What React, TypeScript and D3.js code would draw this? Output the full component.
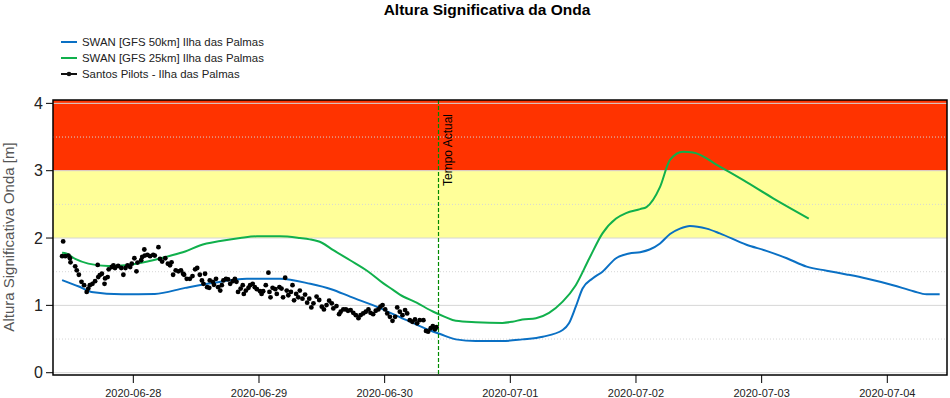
import React from "react";
import * as d3 from "d3";

// hours since 2020-06-27 00:00 UTC, value [m]
const swan50: [number, number][] = [
  [10.4, 1.375], [13.6, 1.28], [16.0, 1.2], [21.8, 1.165], [28.1, 1.17], [33.9, 1.26],
  [39.3, 1.335], [45.7, 1.395], [52.0, 1.395], [57.8, 1.32], [61.8, 1.24], [65.4, 1.13],
  [71.1, 0.96], [76.2, 0.78], [80.6, 0.63], [82.6, 0.574], [85.6, 0.495], [89.4, 0.47],
  [94.5, 0.47], [98.3, 0.495], [102.2, 0.535], [106.0, 0.634], [107.2, 0.733], [108.5, 0.98],
  [109.8, 1.25], [111.7, 1.4], [113.6, 1.5], [116.2, 1.7], [118.7, 1.77], [120.8, 1.79],
  [122.6, 1.83], [124.6, 1.92], [126.5, 2.06], [128.4, 2.14], [130.3, 2.18], [133.5, 2.14],
  [136.0, 2.07], [141.1, 1.9], [144.9, 1.81], [148.8, 1.7], [152.6, 1.575], [156.4, 1.515],
  [160.2, 1.46], [164.0, 1.4], [169.1, 1.3], [173.0, 1.21], [175.5, 1.165], [178.0, 1.165],
];

const swan25: [number, number][] = [
  [10.4, 1.78], [11.2, 1.77], [12.9, 1.69], [15.4, 1.62], [19.2, 1.585], [23.0, 1.6],
  [26.9, 1.655], [30.7, 1.73], [33.9, 1.8], [36.7, 1.89], [40.6, 1.955], [44.4, 2.0],
  [47.6, 2.025], [52.0, 2.025], [55.8, 2.0], [57.7, 1.98], [60.0, 1.93], [62.2, 1.82],
  [65.4, 1.67], [68.9, 1.5], [71.7, 1.33], [73.6, 1.23], [74.9, 1.16], [78.1, 1.04],
  [81.3, 0.905], [83.5, 0.83], [85.6, 0.77], [89.4, 0.75], [94.5, 0.74], [96.4, 0.757],
  [98.3, 0.79], [100.9, 0.81], [103.4, 0.89], [106.0, 1.055], [108.5, 1.3], [111.1, 1.7],
  [113.6, 2.07], [116.2, 2.29], [118.1, 2.37], [120.8, 2.43], [122.0, 2.46], [124.6, 2.76],
  [126.5, 3.16], [129.0, 3.28], [130.9, 3.27], [136.0, 3.06], [140.5, 2.86], [146.2, 2.59],
  [153.0, 2.29],
];

const pilots: [number, number][] = [
  [10.6, 1.95], [10.4, 1.73], [11.0, 1.73], [11.6, 1.74], [11.9, 1.7], [12.0, 1.64], [12.9, 1.58],
  [13.2, 1.52], [13.6, 1.455], [14.1, 1.35], [14.6, 1.3], [15.1, 1.2], [15.4, 1.25], [15.7, 1.3],
  [16.2, 1.32], [16.7, 1.36], [17.2, 1.6], [17.3, 1.42], [17.6, 1.45], [18.0, 1.47], [18.5, 1.32],
  [18.6, 1.4], [19.1, 1.42], [19.3, 1.535], [19.9, 1.57], [20.2, 1.595], [20.5, 1.555], [21.1, 1.585],
  [21.7, 1.555], [22.1, 1.455], [22.5, 1.555], [22.9, 1.595], [23.4, 1.57], [23.7, 1.62], [24.2, 1.7],
  [24.6, 1.505], [24.8, 1.635], [25.5, 1.67], [25.7, 1.72], [26.1, 1.83], [26.2, 1.74], [26.7, 1.75],
  [27.2, 1.73], [27.8, 1.75], [28.1, 1.74], [28.8, 1.865], [29.1, 1.69], [29.5, 1.65], [30.1, 1.7],
  [30.6, 1.62], [31.0, 1.595], [31.3, 1.64], [31.6, 1.455], [32.1, 1.52], [32.6, 1.505], [33.1, 1.52],
  [33.5, 1.47], [33.7, 1.455], [34.2, 1.395], [34.8, 1.395], [35.3, 1.435], [35.8, 1.535], [36.2, 1.555],
  [36.7, 1.455], [37.1, 1.37], [37.4, 1.32], [37.7, 1.47], [38.1, 1.27], [38.5, 1.26], [38.6, 1.37],
  [39.2, 1.35], [39.4, 1.305], [39.8, 1.395], [40.2, 1.27], [40.6, 1.22], [40.9, 1.3], [41.2, 1.37],
  [41.7, 1.395], [42.1, 1.385], [42.5, 1.32], [43.0, 1.36], [43.4, 1.395], [43.7, 1.35], [44.0, 1.2],
  [44.5, 1.25], [44.9, 1.3], [45.1, 1.17], [45.5, 1.22], [46.0, 1.26], [46.3, 1.3], [46.8, 1.32],
  [47.2, 1.27], [47.6, 1.24], [48.2, 1.21], [48.5, 1.17], [48.8, 1.21], [49.3, 1.3], [49.8, 1.485],
  [50.0, 1.2], [50.2, 1.12], [50.6, 1.26], [51.1, 1.24], [51.4, 1.17], [51.9, 1.27], [52.3, 1.25],
  [52.6, 1.12], [53.0, 1.41], [53.3, 1.22], [53.6, 1.15], [54.1, 1.2], [54.4, 1.3], [54.7, 1.075],
  [55.1, 1.17], [55.5, 1.12], [55.8, 1.22], [56.3, 1.1], [56.8, 1.16], [57.2, 1.04], [57.6, 1.1],
  [58.0, 0.97], [58.4, 1.03], [59.0, 1.13], [59.5, 1.08], [60.0, 0.98], [60.4, 0.94], [60.9, 1.005],
  [61.4, 1.07], [61.9, 1.03], [62.2, 0.955], [62.8, 0.99], [63.3, 0.87], [63.6, 0.905], [64.1, 0.94],
  [64.6, 0.94], [65.0, 0.92], [65.5, 0.93], [66.0, 0.89], [66.5, 0.855], [67.0, 0.81], [67.4, 0.855],
  [67.9, 0.88], [68.4, 0.905], [68.9, 0.94], [69.3, 0.89], [69.8, 0.87], [70.3, 0.92], [70.8, 0.94],
  [71.2, 0.98], [71.6, 1.005], [72.1, 0.94], [72.5, 0.88], [73.0, 0.83], [73.5, 0.77], [74.0, 0.83],
  [74.4, 0.97], [74.9, 0.905], [75.4, 0.855], [75.9, 0.93], [76.3, 0.88], [76.8, 0.78], [77.3, 0.757],
  [77.8, 0.79], [78.2, 0.733], [78.7, 0.78], [79.4, 0.78], [79.9, 0.62], [80.3, 0.61], [80.8, 0.66],
  [81.2, 0.69], [81.6, 0.645], [81.9, 0.675],
];

const yTicks = [0, 1, 2, 3, 4];
const yMinor = [0.5, 1.5, 2.5, 3.5];
const xTickDays = [1, 2, 3, 4, 5, 6, 7]; // days after 2020-06-27
const nowHours = 82.1;
const legendItems = [
  { label: "SWAN [GFS 50km] Ilha das Palmas", color: "#0a70c4", dot: false },
  { label: "SWAN [GFS 25km] Ilha das Palmas", color: "#10b04c", dot: false },
  { label: "Santos Pilots - Ilha das Palmas", color: "#111", dot: true },
];

const BASE = Date.UTC(2020, 5, 27, 0, 0);
const t = (h: number) => new Date(BASE + h * 3600e3);

export default function App() {
  const W = 950, H = 398;
  const L = 53, R = 947, T = 100, B = 375;
  const x = d3.scaleUtc().domain([t(8.66), t(179.4)]).range([L, R]);
  const y = d3.scaleLinear().domain([-0.034, 4.05]).range([B, T]);
  const line = d3
    .line<[number, number]>()
    .x((d) => x(t(d[0])))
    .y((d) => y(d[1]))
    .curve(d3.curveMonotoneX);
  const fmt = d3.utcFormat("%Y-%m-%d");
  const font = "'Liberation Sans', Arial, sans-serif";
  const nx = Math.round(x(t(nowHours))) + 0.5;

  return (
    <svg width={W} height={H} style={{ position: "absolute", left: 0, top: 0 }} fontFamily={font}>
      <rect x={0} y={0} width={W} height={H} fill="#fff" />
      <text x={487} y={15} textAnchor="middle" fontWeight="bold" fontSize={15.5} fill="#000">
        Altura Significativa da Onda
      </text>
      {legendItems.map((it, i) => {
        const ly = 42 + i * 16;
        return (
          <g key={it.label}>
            <line x1={61} x2={77} y1={ly} y2={ly} stroke={it.color} strokeWidth={2} />
            {it.dot && <circle cx={69} cy={ly} r={2.3} fill={it.color} />}
            <text x={82} y={ly + 4} fontSize={11.4} fill="#222">
              {it.label}
            </text>
          </g>
        );
      })}
      {/* bands */}
      <rect x={L} y={T} width={R - L} height={y(3) - T} fill="#ff3300" />
      <rect x={L} y={y(3)} width={R - L} height={y(2) - y(3)} fill="#ffff99" />
      {/* grid */}
      {yTicks.map((v) => (
        <line key={"g" + v} x1={L} x2={R} y1={y(v)} y2={y(v)} stroke="#d6d6d6" strokeWidth={1} />
      ))}
      {yMinor.map((v) => (
        <line key={"m" + v} x1={L} x2={R} y1={y(v)} y2={y(v)} stroke="#d6d6d6" strokeWidth={1} strokeDasharray="1,2" />
      ))}
      {/* lines */}
      <path d={line(swan50) || ""} fill="none" stroke="#0a70c4" strokeWidth={2} />
      <path d={line(swan25) || ""} fill="none" stroke="#10b04c" strokeWidth={2} />
      {pilots.map((d, i) => (
        <circle key={i} cx={x(t(d[0]))} cy={y(d[1])} r={2.4} fill="#000" />
      ))}
      {/* now line */}
      <line x1={nx} x2={nx} y1={T} y2={B} stroke="#008a00" strokeWidth={1.2} strokeDasharray="4,2" />
      <text
        transform={`translate(${nx + 13},186) rotate(-90)`}
        fontSize={12}
        fill="#000"
      >
        Tempo Actual
      </text>
      {/* frame */}
      <rect x={L} y={T} width={R - L} height={B - T} fill="none" stroke="#000" strokeWidth={1.5} />
      {/* y axis */}
      {yTicks.map((v) => (
        <g key={"yt" + v}>
          <line x1={46} x2={L} y1={y(v)} y2={y(v)} stroke="#000" strokeWidth={1} />
          <text x={43} y={y(v) + 5.5} textAnchor="end" fontSize={16} fill="#222">
            {v}
          </text>
        </g>
      ))}
      <text
        transform={`translate(14,237) rotate(-90)`}
        textAnchor="middle"
        fontSize={15}
        fill="#555"
      >
        Altura Significativa Onda [m]
      </text>
      {/* x axis */}
      {xTickDays.map((d) => {
        const xx = x(t(d * 24));
        return (
          <g key={"xt" + d}>
            <line x1={xx} x2={xx} y1={B} y2={383} stroke="#000" strokeWidth={1} />
            <text x={xx} y={397} textAnchor="middle" fontSize={11} fill="#222">
              {fmt(t(d * 24))}
            </text>
          </g>
        );
      })}
    </svg>
  );
}
